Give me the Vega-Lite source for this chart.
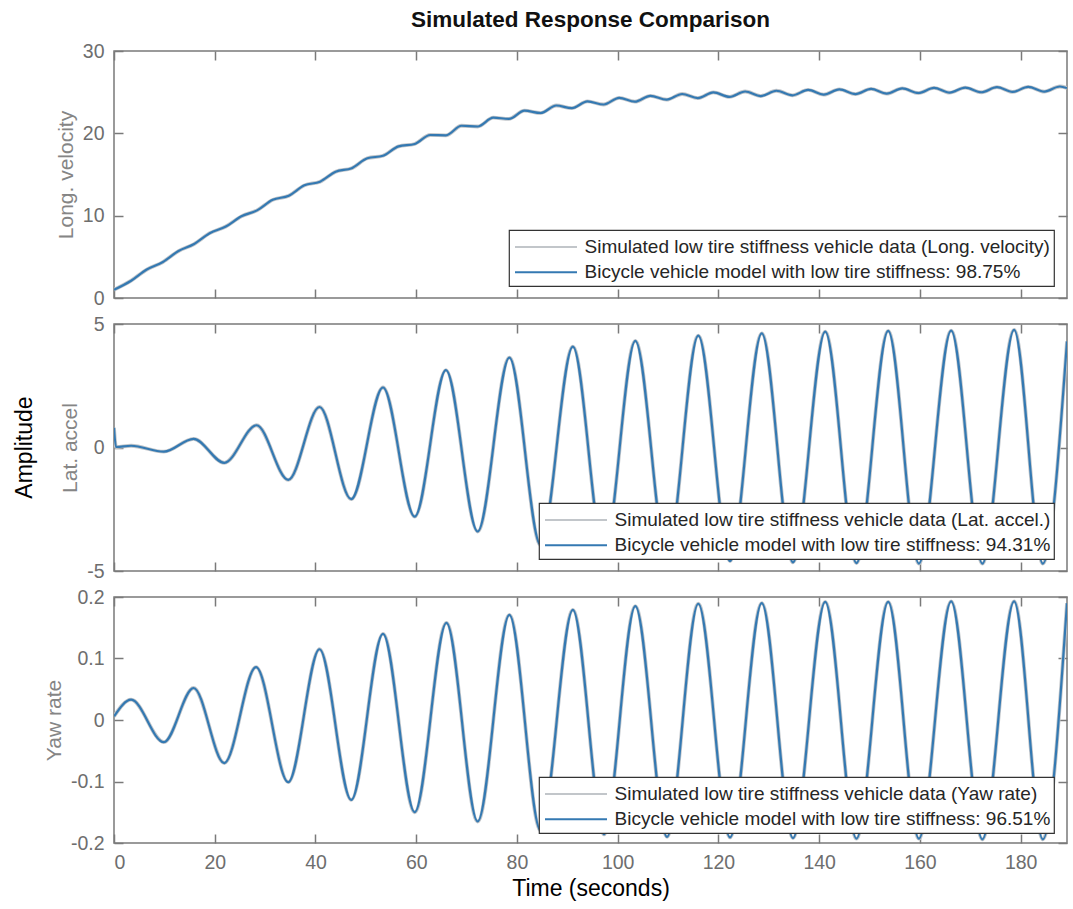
{
  "$schema": "https://vega.github.io/schema/vega-lite/v6.json",
  "background": "white",
  "padding": {"left": 12, "top": 8, "right": 5, "bottom": 0},
  "title": {"text": "Simulated Response Comparison", "fontSize": 22.5, "fontWeight": "bold", "color": "#111111", "anchor": "middle", "frame": "group", "offset": 9},
  "datasets": {
    "vel": [
      {"t": 0, "v": 1.0}, {"t": 3.4, "v": 2.1}, {"t": 6.5, "v": 3.46}, {"t": 9.7, "v": 4.37}, {"t": 12.8, "v": 5.7},
      {"t": 15.9, "v": 6.55}, {"t": 19.0, "v": 7.87}, {"t": 22.2, "v": 8.68}, {"t": 25.3, "v": 9.92}, {"t": 28.4, "v": 10.64},
      {"t": 31.5, "v": 11.92}, {"t": 34.7, "v": 12.42}, {"t": 37.8, "v": 13.68}, {"t": 40.9, "v": 14.13}, {"t": 44.0, "v": 15.34},
      {"t": 47.2, "v": 15.77}, {"t": 50.3, "v": 16.97}, {"t": 53.4, "v": 17.28}, {"t": 56.5, "v": 18.42}, {"t": 59.7, "v": 18.71},
      {"t": 62.8, "v": 19.8}, {"t": 65.9, "v": 19.76}, {"t": 69.0, "v": 20.92}, {"t": 72.2, "v": 20.83}, {"t": 75.3, "v": 21.9},
      {"t": 78.4, "v": 21.76}, {"t": 81.5, "v": 22.75}, {"t": 84.7, "v": 22.47}, {"t": 87.8, "v": 23.38}, {"t": 90.9, "v": 23.06},
      {"t": 94.0, "v": 23.88}, {"t": 97.2, "v": 23.5}, {"t": 100.3, "v": 24.31}, {"t": 103.4, "v": 23.84}, {"t": 106.5, "v": 24.56},
      {"t": 109.7, "v": 24.09}, {"t": 112.8, "v": 24.78}, {"t": 115.9, "v": 24.28}, {"t": 119.0, "v": 24.97}, {"t": 122.2, "v": 24.43},
      {"t": 125.3, "v": 25.08}, {"t": 128.4, "v": 24.53}, {"t": 131.5, "v": 25.17}, {"t": 134.7, "v": 24.62}, {"t": 137.8, "v": 25.27},
      {"t": 140.9, "v": 24.7}, {"t": 144.0, "v": 25.34}, {"t": 147.2, "v": 24.77}, {"t": 150.3, "v": 25.4}, {"t": 153.4, "v": 24.83},
      {"t": 156.5, "v": 25.47}, {"t": 159.7, "v": 24.9}, {"t": 162.8, "v": 25.52}, {"t": 165.9, "v": 24.94}, {"t": 169.0, "v": 25.56},
      {"t": 172.2, "v": 24.99}, {"t": 175.3, "v": 25.61}, {"t": 178.4, "v": 25.03}, {"t": 181.5, "v": 25.65}, {"t": 184.7, "v": 25.07},
      {"t": 187.8, "v": 25.69}, {"t": 189.2, "v": 25.5}
    ],
    "lat": [
      {"t": 0, "v": 0.8}, {"t": 0.4, "v": 0.02}, {"t": 3.4, "v": 0.07}, {"t": 9.9, "v": -0.17}, {"t": 15.8, "v": 0.35},
      {"t": 21.9, "v": -0.62}, {"t": 28.3, "v": 0.9}, {"t": 34.6, "v": -1.31}, {"t": 40.8, "v": 1.64}, {"t": 47.1, "v": -2.09},
      {"t": 53.4, "v": 2.43}, {"t": 59.7, "v": -2.8}, {"t": 65.9, "v": 3.13}, {"t": 72.2, "v": -3.4}, {"t": 78.5, "v": 3.64},
      {"t": 84.7, "v": -3.95}, {"t": 91.1, "v": 4.08}, {"t": 97.3, "v": -4.3}, {"t": 103.5, "v": 4.32}, {"t": 109.8, "v": -4.45},
      {"t": 116.0, "v": 4.53}, {"t": 122.3, "v": -4.6}, {"t": 128.6, "v": 4.62}, {"t": 134.8, "v": -4.65}, {"t": 141.2, "v": 4.69},
      {"t": 147.4, "v": -4.68}, {"t": 153.7, "v": 4.72}, {"t": 159.8, "v": -4.7}, {"t": 166.2, "v": 4.73}, {"t": 172.4, "v": -4.7},
      {"t": 178.7, "v": 4.76}, {"t": 184.4, "v": -4.7}, {"t": 189.2, "v": 4.3}
    ],
    "yaw": [
      {"t": 0, "v": 0.006}, {"t": 3.4, "v": 0.033}, {"t": 9.9, "v": -0.036}, {"t": 15.8, "v": 0.052}, {"t": 21.9, "v": -0.07},
      {"t": 28.2, "v": 0.086}, {"t": 34.6, "v": -0.101}, {"t": 40.8, "v": 0.115}, {"t": 47.1, "v": -0.13}, {"t": 53.4, "v": 0.14},
      {"t": 59.7, "v": -0.15}, {"t": 66.0, "v": 0.158}, {"t": 72.2, "v": -0.165}, {"t": 78.5, "v": 0.171}, {"t": 84.7, "v": -0.18},
      {"t": 91.1, "v": 0.179}, {"t": 97.3, "v": -0.186}, {"t": 103.5, "v": 0.185}, {"t": 109.8, "v": -0.19}, {"t": 116.0, "v": 0.189},
      {"t": 122.3, "v": -0.191}, {"t": 128.6, "v": 0.19}, {"t": 134.8, "v": -0.192}, {"t": 141.2, "v": 0.192}, {"t": 147.4, "v": -0.193},
      {"t": 153.7, "v": 0.192}, {"t": 159.8, "v": -0.193}, {"t": 166.2, "v": 0.193}, {"t": 172.4, "v": -0.194}, {"t": 178.7, "v": 0.193},
      {"t": 184.4, "v": -0.194}, {"t": 189.2, "v": 0.19}
    ]
  },
  "vconcat": [
    {
      "width": 953, "height": 247,
      "data": {"name": "vel"},
      "layer": [
        {
          "mark": {"type": "line", "interpolate": "monotone", "strokeWidth": 3.8, "clip": true},
          "encoding": {
            "x": {"field": "t", "type": "quantitative", "scale": {"domain": [0, 189.2], "nice": false, "zero": false},
                  "axis": {"orient": "bottom", "values": [0, 20, 40, 60, 80, 100, 120, 140, 160, 180], "labels": false, "title": null}},
            "y": {"field": "v", "type": "quantitative", "scale": {"domain": [0, 30], "nice": false},
                  "axis": {"orient": "left", "values": [0, 10, 20, 30], "title": "Long. velocity"}},
            "color": {"datum": "Simulated low tire stiffness vehicle data (Long. velocity)",
                      "scale": {"domain": ["Simulated low tire stiffness vehicle data (Long. velocity)", "Bicycle vehicle model with low tire stiffness: 98.75%"], "range": ["#c2c6ca", "#3479b2"]},
                      "legend": {"legendX": 395, "legendY": 179}}
          }
        },
        {
          "mark": {"type": "line", "interpolate": "monotone", "strokeWidth": 2.2, "clip": true},
          "encoding": {
            "x": {"field": "t", "type": "quantitative",
                  "axis": {"orient": "top", "values": [0, 20, 40, 60, 80, 100, 120, 140, 160, 180], "labels": false, "title": null}},
            "y": {"field": "v", "type": "quantitative",
                  "axis": {"orient": "right", "values": [0, 10, 20, 30], "labels": false, "title": null}},
            "color": {"datum": "Bicycle vehicle model with low tire stiffness: 98.75%"}
          }
        }
      ],
      "resolve": {"axis": {"x": "independent", "y": "independent"}}
    },
    {
      "width": 953, "height": 247,
      "data": {"name": "lat"},
      "layer": [
        {
          "mark": {"type": "line", "interpolate": "monotone", "strokeWidth": 3.8, "clip": true},
          "encoding": {
            "x": {"field": "t", "type": "quantitative", "scale": {"domain": [0, 189.2], "nice": false, "zero": false},
                  "axis": {"orient": "bottom", "values": [0, 20, 40, 60, 80, 100, 120, 140, 160, 180], "labels": false, "title": null}},
            "y": {"field": "v", "type": "quantitative", "scale": {"domain": [-5, 5], "nice": false},
                  "axis": {"orient": "left", "values": [-5, 0, 5], "title": "Lat. accel"}},
            "color": {"datum": "Simulated low tire stiffness vehicle data (Lat. accel.)",
                      "scale": {"domain": ["Simulated low tire stiffness vehicle data (Lat. accel.)", "Bicycle vehicle model with low tire stiffness: 94.31%"], "range": ["#c2c6ca", "#3479b2"]},
                      "legend": {"legendX": 425, "legendY": 179}}
          }
        },
        {
          "mark": {"type": "line", "interpolate": "monotone", "strokeWidth": 2.2, "clip": true},
          "encoding": {
            "x": {"field": "t", "type": "quantitative",
                  "axis": {"orient": "top", "values": [0, 20, 40, 60, 80, 100, 120, 140, 160, 180], "labels": false, "title": null}},
            "y": {"field": "v", "type": "quantitative",
                  "axis": {"orient": "right", "values": [-5, 0, 5], "labels": false, "title": null}},
            "color": {"datum": "Bicycle vehicle model with low tire stiffness: 94.31%"}
          }
        },
        {
          "mark": {"type": "line", "strokeOpacity": 0},
          "encoding": {
            "x": {"field": "t", "type": "quantitative", "axis": null},
            "y": {"field": "v", "type": "quantitative",
                  "axis": {"orient": "left", "title": "Amplitude", "labels": false, "ticks": false, "domain": false, "grid": false,
                           "titleX": -90, "titleY": 123, "titleColor": "#000000", "titleFontSize": 23, "titleBaseline": "middle", "titleAlign": "center", "titleAngle": -90}}
          }
        }
      ],
      "resolve": {"axis": {"x": "independent", "y": "independent"}}
    },
    {
      "width": 953, "height": 246,
      "data": {"name": "yaw"},
      "layer": [
        {
          "mark": {"type": "line", "interpolate": "monotone", "strokeWidth": 3.8, "clip": true},
          "encoding": {
            "x": {"field": "t", "type": "quantitative", "scale": {"domain": [0, 189.2], "nice": false, "zero": false},
                  "axis": {"orient": "bottom", "values": [0, 20, 40, 60, 80, 100, 120, 140, 160, 180], "title": "Time (seconds)",
                           "titleColor": "#000000", "titleFontSize": 23, "titlePadding": 6}},
            "y": {"field": "v", "type": "quantitative", "scale": {"domain": [-0.2, 0.2], "nice": false},
                  "axis": {"orient": "left", "values": [-0.2, -0.1, 0, 0.1, 0.2], "title": "Yaw rate"}},
            "color": {"datum": "Simulated low tire stiffness vehicle data (Yaw rate)",
                      "scale": {"domain": ["Simulated low tire stiffness vehicle data (Yaw rate)", "Bicycle vehicle model with low tire stiffness: 96.51%"], "range": ["#c2c6ca", "#3479b2"]},
                      "legend": {"legendX": 425, "legendY": 180}}
          }
        },
        {
          "mark": {"type": "line", "interpolate": "monotone", "strokeWidth": 2.2, "clip": true},
          "encoding": {
            "x": {"field": "t", "type": "quantitative",
                  "axis": {"orient": "top", "values": [0, 20, 40, 60, 80, 100, 120, 140, 160, 180], "labels": false, "title": null}},
            "y": {"field": "v", "type": "quantitative",
                  "axis": {"orient": "right", "values": [-0.2, -0.1, 0, 0.1, 0.2], "labels": false, "title": null}},
            "color": {"datum": "Bicycle vehicle model with low tire stiffness: 96.51%"}
          }
        }
      ],
      "resolve": {"axis": {"x": "independent", "y": "independent"}}
    }
  ],
  "spacing": 26,
  "bounds": "flush",
  "resolve": {"scale": {"color": "independent"}, "legend": {"color": "independent"}},
  "config": {
    "font": "Liberation Sans",
    "view": {"stroke": "#7a7a7a", "strokeWidth": 1.5},
    "axis": {
      "domain": false, "grid": false,
      "tickColor": "#7a7a7a", "tickSize": -9, "tickWidth": 1.5,
      "labelColor": "#6e6e6e", "labelFontSize": 19.5, "labelPadding": 19,
      "labelExpr": "replace(format(datum.value, '~g'), '\u2212', '-')",
      "titleColor": "#858585", "titleFontSize": 21, "titleFontWeight": "normal", "titlePadding": 6
    },
    "legend": {
      "orient": "none", "direction": "vertical", "title": null,
      "fillColor": "white", "strokeColor": "#333333", "strokeWidth": 1.2,
      "padding": 3.5, "rowPadding": 1.2,
      "labelFontSize": 19, "labelColor": "#262626", "labelLimit": 600,
      "symbolType": "M-2.48,0L2.48,0", "symbolSize": 625, "symbolStrokeWidth": 2,
      "symbolOffset": 20, "labelOffset": 25
    }
  }
}
